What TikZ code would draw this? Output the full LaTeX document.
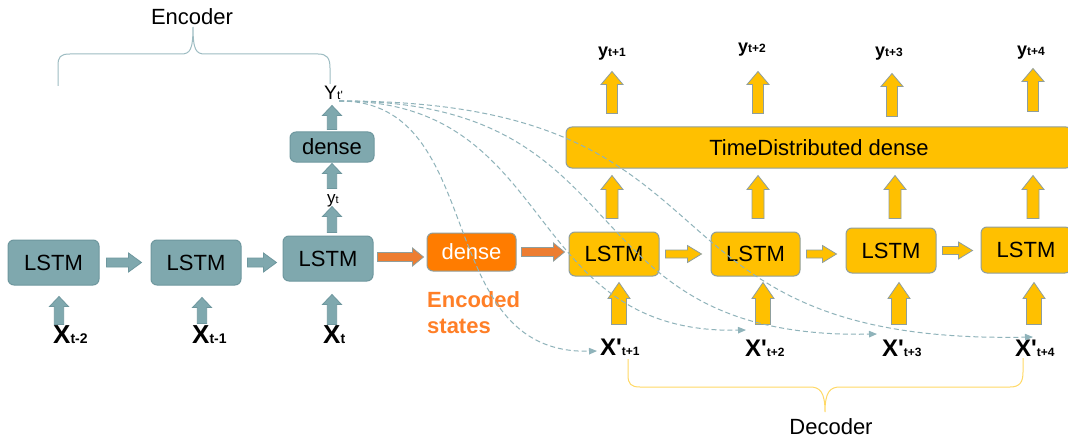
\documentclass[tikz,border=0pt]{standalone}
\usepackage{fontspec}
\setmainfont{Liberation Sans}[Ligatures=TeXOff]
\usetikzlibrary{calc,arrows.meta}

\definecolor{encfill}{HTML}{7FA8AE}
\definecolor{encdraw}{HTML}{6E979E}
\definecolor{gold}{HTML}{FFC000}
\definecolor{golddraw}{HTML}{8F9E9C}
\definecolor{orfill}{HTML}{FF7C00}
\definecolor{orarrow}{HTML}{ED7D31}
\definecolor{ortext}{HTML}{FF7F27}
\definecolor{dashc}{HTML}{8FB3BA}
\definecolor{encbrace}{HTML}{9DBCC2}
\definecolor{decbrace}{HTML}{FFD966}

% vertical (upward) block arrow: style, bottom, tip, shaft half width, head half width, head length
\newcommand\varr[6]{\path[#1] let \p1=#2, \p2=#3 in
  (\x1-#4pt,\y1) -- (\x1-#4pt,\y2-#6pt) -- (\x1-#5pt,\y2-#6pt) -- (\x1,\y2)
  -- (\x1+#5pt,\y2-#6pt) -- (\x1+#4pt,\y2-#6pt) -- (\x1+#4pt,\y1) -- cycle;}
% horizontal (rightward) block arrow
\newcommand\harr[6]{\path[#1] let \p1=#2, \p2=#3 in
  (\x1,\y1+#4pt) -- (\x2-#6pt,\y1+#4pt) -- (\x2-#6pt,\y1+#5pt) -- (\x2,\y1)
  -- (\x2-#6pt,\y1-#5pt) -- (\x2-#6pt,\y1-#4pt) -- (\x1,\y1-#4pt) -- cycle;}

\tikzset{
  bigtxt/.style={font=\fontsize{22}{26}\selectfont},
  encbox/.style={bigtxt, rounded corners=6pt, fill=encfill, draw=encdraw, line width=1pt, text=black, inner sep=0pt},
  decbox/.style={bigtxt, rounded corners=6pt, fill=gold, draw=golddraw, line width=1pt, text=black, inner sep=0pt},
  orbox/.style={bigtxt, rounded corners=6pt, fill=orfill, draw=golddraw, line width=1pt, text=white, inner sep=0pt},
  encarr/.style={fill=encfill, draw=encdraw, line width=0.8pt},
  decarr/.style={fill=gold, draw=golddraw, line width=0.8pt},
  orarr/.style={fill=orarrow, draw=golddraw, line width=0.8pt},
  lbl/.style={inner sep=0pt, anchor=base west, text=black},
  dashcurve/.style={draw=dashc, line width=1pt, dash pattern=on 5pt off 3pt, -{Triangle[length=8pt,width=6.5pt]}},
  bracestyle/.style={line width=1pt}
}

\begin{document}
\begin{tikzpicture}[x=1pt,y=-1pt]
\useasboundingbox (0,0) rectangle (1068,441);
\clip (0,0) rectangle (1068,441);
\fill[white] (0,0) rectangle (1068,441);

% ---------------- Encoder ----------------
\node[encbox, minimum width=91pt, minimum height=45pt] (l1) at (53.5,262.5) {LSTM};
\node[encbox, minimum width=90pt, minimum height=45pt] (l2) at (196,262.5) {LSTM};
\node[encbox, minimum width=90pt, minimum height=45pt] (l3) at (328,258.5) {LSTM};
\node[encbox, minimum width=84pt, minimum height=30pt] (ed) at (332,147) {dense};

\node[lbl, font=\bfseries] (xa) at (53,343) {\fontsize{26}{28}\selectfont X\fontsize{14}{16}\selectfont t-2};
\node[lbl, font=\bfseries] (xb) at (192,343) {\fontsize{26}{28}\selectfont X\fontsize{14}{16}\selectfont t-1};
\node[lbl, font=\bfseries] (xc) at (323,343) {\fontsize{26}{28}\selectfont X\fontsize{14}{16}\selectfont t};
\node[lbl] (ytl) at (327,203) {\fontsize{17}{19}\selectfont y\fontsize{11}{13}\selectfont t};
\node[lbl] (ytp) at (324,100) {\fontsize{19.5}{21}\selectfont Y\fontsize{12}{14}\selectfont t'};

\harr{encarr}{($(l1.east)+(7,0)$)}{($(l2.west)+(-9,0)$)}{4.5}{9.5}{13}
\harr{encarr}{($(l2.east)+(6,0)$)}{($(l3.west)+(-6,0)$)}{4.5}{9.5}{13}
\varr{encarr}{($(l1.south)+(5.5,39)$)}{($(l1.south)+(5.5,11)$)}{4.7}{9.5}{10}
\varr{encarr}{($(l2.south)+(6,38)$)}{($(l2.south)+(6,12)$)}{4.7}{9.5}{10}
\varr{encarr}{($(l3.south)+(4,43)$)}{($(l3.south)+(4,13)$)}{4.7}{9.5}{10}
\varr{encarr}{($(l3.north)+(4,-3)$)}{($(l3.north)+(4,-29)$)}{4.7}{9.5}{10}
\varr{encarr}{($(ed.south)+(0,26)$)}{($(ed.south)+(0,1)$)}{4.7}{9.5}{10}
\varr{encarr}{($(ed.north)+(0,-2)$)}{($(ed.north)+(0,-26)$)}{4.7}{9.5}{10}

% encoder brace
\draw[bracestyle, draw=encbrace] (58,86) -- (58,66) .. controls (58,57) and (60,54) .. (70,54) -- (181,54)
  .. controls (190,54) and (193,50) .. (193,27) .. controls (193,50) and (196,54) .. (205,54)
  -- (318,54) .. controls (327,54) and (330,58) .. (330,68) -- (330,84);
\node[inner sep=0pt, anchor=base, bigtxt] (enclbl) at (192,25) {Encoder};

% ---------------- Encoded states ----------------
\node[orbox, minimum width=89pt, minimum height=38pt] (od) at (471.5,252) {dense};
\node[inner sep=0pt, anchor=north west, align=left, font=\fontsize{22}{26.5}\selectfont\bfseries, text=ortext] (encst) at (427,291) {Encoded\\states};
\harr{orarr}{($(l3.east)+(4,-1.5)$)}{($(od.west)+(-3,0)$)}{4.5}{9}{11}

% ---------------- Decoder ----------------
\node[decbox, minimum width=90pt, minimum height=44pt] (d1) at (614,254) {LSTM};
\node[decbox, minimum width=89pt, minimum height=44pt] (d2) at (755.5,254) {LSTM};
\node[decbox, minimum width=90pt, minimum height=45pt] (d3) at (891,250.5) {LSTM};
\node[decbox, minimum width=90pt, minimum height=46pt] (d4) at (1026,250) {LSTM};
\node[decbox, minimum width=506pt, minimum height=41pt] (td) at (819,147.5) {TimeDistributed dense};

\harr{orarr}{($(od.east)+(5,0)$)}{($(d1.west)+(-4,0)$)}{4.5}{9}{11}
\harr{decarr}{($(d1.east)+(6,0)$)}{($(d2.west)+(-9,0)$)}{4}{8.5}{14}
\harr{decarr}{($(d2.east)+(6,0)$)}{($(d3.west)+(-9,0)$)}{4}{8.5}{14}
\harr{decarr}{($(d3.east)+(6,0)$)}{($(d4.west)+(-8,0)$)}{4}{8.5}{14}

% inputs to decoder LSTMs
\varr{decarr}{($(d1.south)+(5,48)$)}{($(d1.south)+(5,6)$)}{7.5}{11}{16}
\varr{decarr}{($(d2.south)+(7.5,48)$)}{($(d2.south)+(7.5,6)$)}{7.5}{11}{16}
\varr{decarr}{($(d3.south)+(8,51)$)}{($(d3.south)+(8,9)$)}{7.5}{11}{16}
\varr{decarr}{($(d4.south)+(8,51)$)}{($(d4.south)+(8,9)$)}{7.5}{11}{16}
% LSTM -> TimeDistributed dense
\varr{decarr}{($(d1.north)+(-2,-13)$)}{($(d1.north)+(-2,-56)$)}{6}{11}{14}
\varr{decarr}{($(d2.north)+(2.5,-13)$)}{($(d2.north)+(2.5,-56)$)}{6}{11}{14}
\varr{decarr}{($(d3.north)+(4,-9)$)}{($(d3.north)+(4,-52)$)}{6}{11}{14}
\varr{decarr}{($(d4.north)+(7,-8)$)}{($(d4.north)+(7,-51)$)}{6}{11}{14}
% TimeDistributed dense -> outputs
\varr{decarr}{($(d1.north |- td.north)+(-2,-13)$)}{($(d1.north |- td.north)+(-2,-55)$)}{5.5}{11}{13}
\varr{decarr}{($(d2.north |- td.north)+(2.5,-13)$)}{($(d2.north |- td.north)+(2.5,-55)$)}{5.5}{11}{13}
\varr{decarr}{($(d3.north |- td.north)+(1,-10)$)}{($(d3.north |- td.north)+(1,-53)$)}{5.5}{11}{13}
\varr{decarr}{($(d4.north |- td.north)+(7,-15)$)}{($(d4.north |- td.north)+(7,-58)$)}{5.5}{11}{13}

\node[lbl, font=\bfseries] (yo1) at (598,57) {\fontsize{18}{20}\selectfont y\fontsize{12}{14}\selectfont t+1};
\node[lbl, font=\bfseries] (yo2) at (738,53) {\fontsize{18}{20}\selectfont y\fontsize{12}{14}\selectfont t+2};
\node[lbl, font=\bfseries] (yo3) at (875,57) {\fontsize{18}{20}\selectfont y\fontsize{12}{14}\selectfont t+3};
\node[lbl, font=\bfseries] (yo4) at (1017,56) {\fontsize{18}{20}\selectfont y\fontsize{12}{14}\selectfont t+4};

\node[lbl, font=\bfseries] (xp1) at (600,355) {\fontsize{24}{26}\selectfont X'\fontsize{12}{14}\selectfont t+1};
\node[lbl, font=\bfseries] (xp2) at (745,356) {\fontsize{24}{26}\selectfont X'\fontsize{12}{14}\selectfont t+2};
\node[lbl, font=\bfseries] (xp3) at (882,356) {\fontsize{24}{26}\selectfont X'\fontsize{12}{14}\selectfont t+3};
\node[lbl, font=\bfseries] (xp4) at (1015,356) {\fontsize{24}{26}\selectfont X'\fontsize{12}{14}\selectfont t+4};

% decoder brace
\draw[bracestyle, draw=decbrace] (628,359) -- (628,375) .. controls (628,384) and (631,387) .. (640,387) -- (810,387)
  .. controls (820,387) and (825,392) .. (825,412) .. controls (825,392) and (830,387) .. (840,387)
  -- (1010,387) .. controls (1020,387) and (1023,382) .. (1023,372) -- (1023,358);
\node[inner sep=0pt, anchor=base, bigtxt] (declbl) at (831,434) {Decoder};

% ---------------- dashed copies of Y_t' ----------------
\coordinate (ys) at ($(ytp.base west)+(15,1)$);
\coordinate (tp1) at (597,351);
\coordinate (tp2) at (746,330);
\coordinate (tp3) at (877,334);
\coordinate (tp4) at (1033,337);
\draw[dashcurve] (ys) .. controls (490,100) and (430,355) .. (tp1);
\draw[dashcurve] (ys) .. controls (560,100) and (520,335) .. (tp2);
\draw[dashcurve] (ys) .. controls (650,100) and (560,340) .. (tp3);
\draw[dashcurve] (ys) .. controls (760,100) and (620,345) .. (tp4);
\end{tikzpicture}
\end{document}
